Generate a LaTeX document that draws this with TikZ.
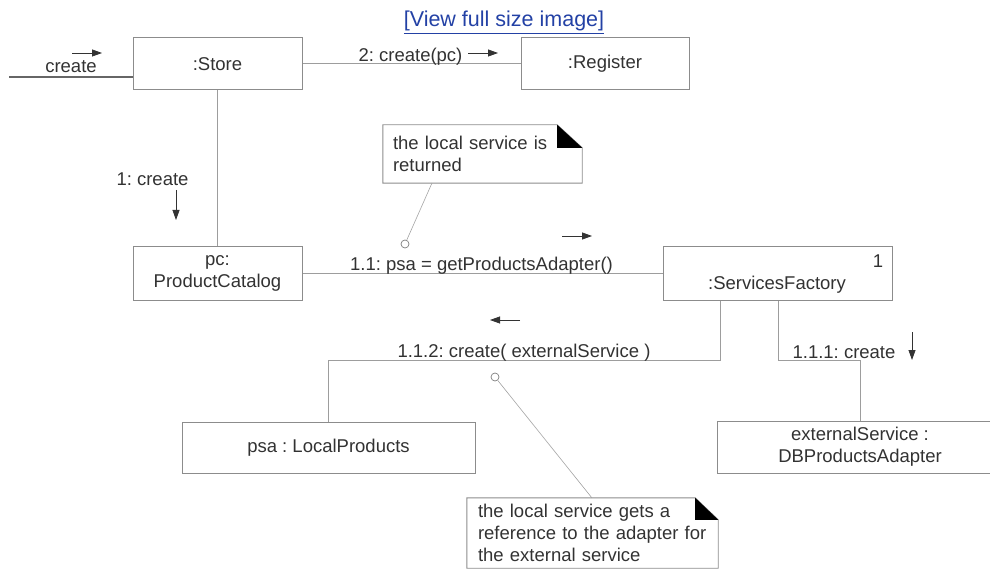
\documentclass[tikz,border=0pt]{standalone}
\usepackage{fontspec}
\setmainfont{Liberation Sans}
\usetikzlibrary{positioning, arrows.meta}
\definecolor{LineGray}{RGB}{140,140,140}
\definecolor{TextGray}{RGB}{50,50,50}
\definecolor{LinkBlue}{RGB}{35,65,165}
\frenchspacing

\begin{document}
\begin{tikzpicture}[x=1pt, y=-1pt,
    every node/.style={text=TextGray, font=\fontsize{18.5}{22}\selectfont},
    object/.style={draw=LineGray, line width=1pt, inner sep=0pt, align=center},
    link/.style={draw=LineGray!85, line width=1pt},
    entryline/.style={draw=black!60, line width=1.6pt},
    msg/.style={-{Triangle[length=10pt, width=7pt]}, draw=black!80, line width=0.8pt},
    notebox/.style={inner sep=0pt, align=left},
    noteframe/.style={draw=LineGray, line width=0.9pt},
    noteline/.style={draw=LineGray!80, line width=0.6pt},
    knob/.style={circle, draw=LineGray!90!black, fill=white, line width=0.7pt, minimum size=8pt, inner sep=0pt}]
    \useasboundingbox (0,0) rectangle (990,569);

    % Link above the diagram
    \node[anchor=base, text=LinkBlue, font=\fontsize{21.5}{24}\selectfont] (viewlink) at (504,27) {\underline{[View full size image]}};

    % Objects
    \node[object, minimum width=169, minimum height=52] (store) at (217.5,64) {:Store};
    \node[object, minimum width=168, minimum height=52] (register) at (605,64) {:Register};
    \node[object, minimum width=169, minimum height=53] (catalog) at (217.5,273.5) {pc:\\ProductCatalog};
    \node[object, minimum width=229, minimum height=53] (factory) at (777.5,273.5) {};
    \node[anchor=base] (factoryname) at (777,290) {:ServicesFactory};
    \node[anchor=base] (single) at (878,268) {1};
    \node[object, minimum width=293, minimum height=51] (local) at (328.5,447.5) {psa : LocalProducts};
    \node[object, minimum width=286, minimum height=52] (adapter) at (860,447) {externalService :\\DBProductsAdapter};

    % Links
    \coordinate (entry) at (9,77);
    \draw[entryline] (entry) -- (entry -| store.west);
    \draw[link] (store) -- (register);
    \draw[link] (store) -- (catalog);
    \draw[link] (catalog) -- (factory);
    \coordinate (bendL) at (720,360);
    \coordinate (bendR) at (778,360);
    \draw[link] (factory.south -| bendL) -- (bendL) -| (local.north);
    \draw[link] (factory.south -| bendR) -- (bendR) -| (adapter.north);

    % Messages
    \node[anchor=base] (msg0) at (71,73) {create};
    \draw[msg] (72,53) -- (102,53);
    \node[anchor=base] (msg2) at (410.5,62) {2: create(pc)};
    \draw[msg] (468,53) -- (498,53);
    \node[anchor=base] (msg1) at (152.5,186) {1: create};
    \draw[msg] (176,190) -- (176,220);
    \node[anchor=base] (msg11) at (481.5,270) {1.1: psa = getProductsAdapter()};
    \draw[msg] (562,236) -- (592,236);
    \node[anchor=base] (msg112) at (524,357) {1.1.2: create( externalService )};
    \draw[msg] (520,320) -- (490,320);
    \node[anchor=base] (msg111) at (844,358) {1.1.1: create};
    \draw[msg] (912,332) -- (912,360);

    % Notes
    \node[notebox, minimum width=199, minimum height=58, text width=179] (note1) at (482.5,154) {the local service is\\returned};
    \draw[noteframe] (note1.north west) -- ([xshift=-25pt]note1.north east) -- ([yshift=-23pt]note1.north east)
        -- (note1.south east) -- (note1.south west) -- cycle;
    \fill[black] ([xshift=-25pt]note1.north east) -- ([xshift=-25pt, yshift=-23pt]note1.north east)
        -- ([yshift=-23pt]note1.north east) -- cycle;
    \node[knob] (knob1) at (405,244) {};
    \coordinate (note1foot) at (432,183);
    \draw[noteline] (knob1) -- (note1foot);

    \node[notebox, minimum width=251, minimum height=70, text width=229] (note2) at (592.5,533) {the local service gets a\\reference to the adapter for\\the external service};
    \draw[noteframe] (note2.north west) -- ([xshift=-23pt]note2.north east) -- ([yshift=-22pt]note2.north east)
        -- (note2.south east) -- (note2.south west) -- cycle;
    \fill[black] ([xshift=-23pt]note2.north east) -- ([xshift=-23pt, yshift=-22pt]note2.north east)
        -- ([yshift=-22pt]note2.north east) -- cycle;
    \node[knob] (knob2) at (495,377) {};
    \coordinate (note2top) at (592,498);
    \draw[noteline] (knob2) -- (note2top);
\end{tikzpicture}
\end{document}
